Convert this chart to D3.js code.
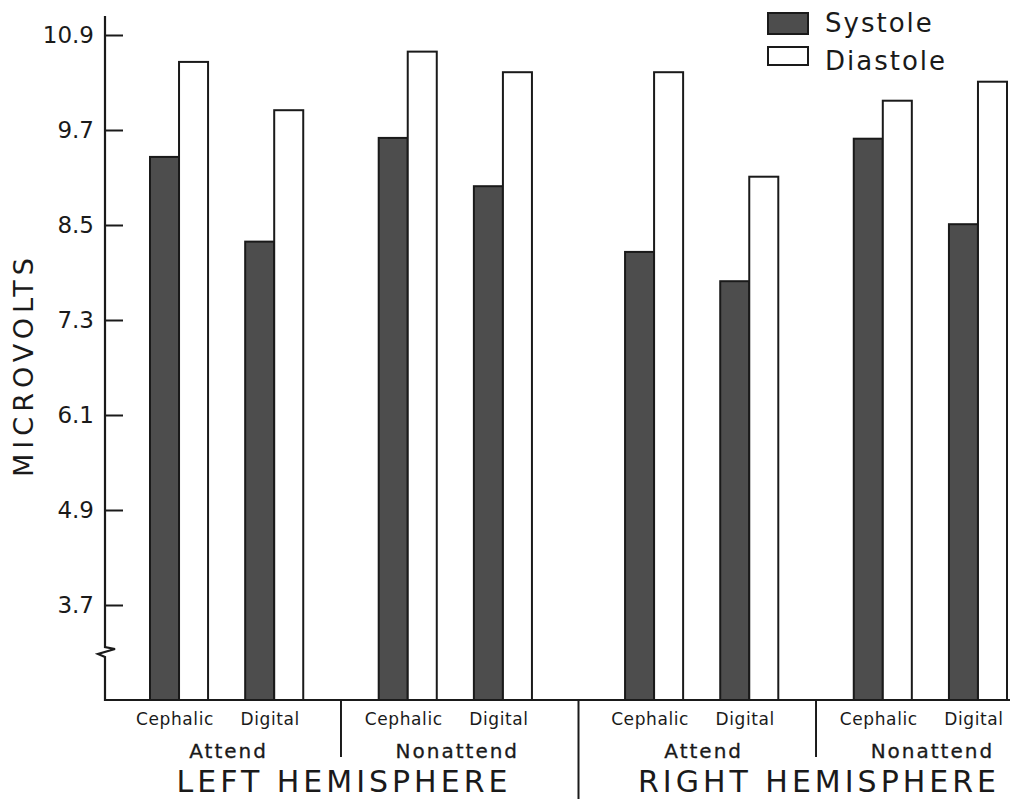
<!DOCTYPE html>
<html>
<head>
<meta charset="utf-8" />
<title>Microvolts by hemisphere</title>
<script src="https://cdn.jsdelivr.net/npm/d3@7/dist/d3.min.js"></script>
<style>
  body { margin: 0; background: #fff; }
  svg text { font-family: "DejaVu Sans", sans-serif; fill: #1a1a1a; }
</style>
</head>
<body>
<div id="chart"></div>
<script>
// data
var hemispheres = ["LEFT HEMISPHERE", "RIGHT HEMISPHERE"];
var conditions = ["Attend", "Nonattend"];
var sites = ["Cephalic", "Digital"];
var seriesNames = ["Systole", "Diastole"];
// order: L-Attend-Ceph, L-Attend-Dig, L-Non-Ceph, L-Non-Dig, R-Attend-Ceph, ...
var systole = [9.36, 8.29, 9.60, 8.99, 8.16, 7.79, 9.59, 8.51];
var diastole = [10.56, 9.95, 10.69, 10.43, 10.43, 9.11, 10.07, 10.31];
var yTicks = [3.7, 4.9, 6.1, 7.3, 8.5, 9.7, 10.9];

var width = 1010, height = 799;
var axisX = 105, baseY = 700;

var svg = d3.select("#chart").append("svg")
  .attr("width", width)
  .attr("height", height);

// y scale, broken axis starts at 2.5
var y = d3.scaleLinear().domain([2.5, 10.9]).range([baseY, 35]);

// nested band scales: hemisphere > condition > site > series
var xHemi = d3.scaleBand().domain(hemispheres).range([150, 1007]).paddingInner(0.196);
var xCond = d3.scaleBand().domain(conditions).range([0, xHemi.bandwidth()]).paddingInner(0.33);
var xSite = d3.scaleBand().domain(sites).range([0, xCond.bandwidth()]).paddingInner(0.39);
var xSer = d3.scaleBand().domain(seriesNames).range([0, xSite.bandwidth()]).padding(0);

var fills = { "Systole": "#4d4d4d", "Diastole": "#ffffff" };

// build bar records
var bars = [];
var i = 0;
hemispheres.forEach(function (h) {
  conditions.forEach(function (c) {
    sites.forEach(function (s) {
      bars.push({ hemi: h, cond: c, site: s, series: "Systole", value: systole[i] });
      bars.push({ hemi: h, cond: c, site: s, series: "Diastole", value: diastole[i] });
      i++;
    });
  });
});

function xPos(d) {
  return xHemi(d.hemi) + xCond(d.cond) + xSite(d.site) + (d.series ? xSer(d.series) : 0);
}

svg.selectAll("rect.bar")
  .data(bars)
  .enter().append("rect")
  .attr("class", "bar")
  .attr("x", xPos)
  .attr("y", function (d) { return y(d.value); })
  .attr("width", xSer.bandwidth())
  .attr("height", function (d) { return baseY - y(d.value); })
  .attr("fill", function (d) { return fills[d.series]; })
  .attr("stroke", "#1a1a1a")
  .attr("stroke-width", 2);

// y axis with break
var yAxis = d3.axisRight(y).tickValues(yTicks).tickSize(18).tickFormat("");
var gy = svg.append("g").attr("transform", "translate(" + axisX + ",0)").call(yAxis);
gy.select(".domain").remove();
gy.selectAll(".tick line").attr("stroke", "#1a1a1a").attr("stroke-width", 2);

svg.selectAll("text.ytick")
  .data(yTicks)
  .enter().append("text")
  .attr("class", "ytick")
  .attr("x", axisX - 11)
  .attr("y", function (d) { return y(d) + 8; })
  .attr("text-anchor", "end")
  .style("font-size", "23px")
  .text(function (d) { return d3.format(".1f")(d); });

svg.append("path")
  .attr("d", "M" + axisX + ",16 L" + axisX + ",647 L115,649 L98,654 L" + axisX + ",657 L" + axisX + "," + baseY + " L" + width + "," + baseY)
  .attr("fill", "none")
  .attr("stroke", "#1a1a1a")
  .attr("stroke-width", 2.2);

// separators below baseline
var sepData = [];
hemispheres.forEach(function (h) {
  var a = xHemi(h) + xCond("Attend") + xCond.bandwidth();
  var b = xHemi(h) + xCond("Nonattend");
  sepData.push({ x: (a + b) / 2, y2: 757 });
});
sepData.push({ x: (xHemi(hemispheres[0]) + xHemi.bandwidth() + xHemi(hemispheres[1])) / 2, y2: 799 });

svg.selectAll("line.sep")
  .data(sepData)
  .enter().append("line")
  .attr("class", "sep")
  .attr("x1", function (d) { return d.x; })
  .attr("x2", function (d) { return d.x; })
  .attr("y1", baseY)
  .attr("y2", function (d) { return d.y2; })
  .attr("stroke", "#1a1a1a")
  .attr("stroke-width", 2);

// site labels
var siteLabels = [];
hemispheres.forEach(function (h) {
  conditions.forEach(function (c) {
    sites.forEach(function (s) {
      siteLabels.push({ hemi: h, cond: c, site: s });
    });
  });
});
svg.selectAll("text.site")
  .data(siteLabels)
  .enter().append("text")
  .attr("class", "site")
  .attr("x", function (d) { return xHemi(d.hemi) + xCond(d.cond) + xSite(d.site) + xSite.bandwidth() / 2 - 4; })
  .attr("y", 725)
  .attr("text-anchor", "middle")
  .style("font-size", "17px")
  .style("letter-spacing", "0.6px")
  .text(function (d) { return d.site; });

// condition labels
var condLabels = [];
hemispheres.forEach(function (h) {
  conditions.forEach(function (c) { condLabels.push({ hemi: h, cond: c }); });
});
svg.selectAll("text.cond")
  .data(condLabels)
  .enter().append("text")
  .attr("class", "cond")
  .attr("x", function (d) { return xHemi(d.hemi) + xCond(d.cond) + xCond.bandwidth() / 2 + 2; })
  .attr("y", 758)
  .attr("text-anchor", "middle")
  .style("font-size", "20px")
  .style("letter-spacing", "2px")
  .style("stroke", "#1a1a1a")
  .style("stroke-width", "0.3px")
  .text(function (d) { return d.cond; });

// hemisphere labels
svg.selectAll("text.hemi")
  .data(hemispheres)
  .enter().append("text")
  .attr("class", "hemi")
  .attr("x", function (d) { return xHemi(d) + xHemi.bandwidth() / 2 + 3; })
  .attr("y", 792)
  .attr("text-anchor", "middle")
  .style("font-size", "30px")
  .style("letter-spacing", "4px")
  .text(function (d) { return d; });

// y label
svg.append("text")
  .attr("transform", "translate(33,365) rotate(-90)")
  .attr("text-anchor", "middle")
  .style("font-size", "27px")
  .style("letter-spacing", "5px")
  .text("MICROVOLTS");

// legend
var legend = svg.selectAll("g.legend")
  .data(seriesNames)
  .enter().append("g")
  .attr("class", "legend")
  .attr("transform", function (d, k) { return "translate(768," + (13 + k * 34) + ")"; });

legend.append("rect")
  .attr("width", 40)
  .attr("height", function (d, k) { return k === 0 ? 21 : 18; })
  .attr("fill", function (d) { return fills[d]; })
  .attr("stroke", "#1a1a1a")
  .attr("stroke-width", 2);

legend.append("text")
  .attr("x", 57)
  .attr("y", function (d, k) { return k === 0 ? 19 : 23; })
  .style("font-size", "26px")
  .style("letter-spacing", "2px")
  .text(function (d) { return d; });
</script>
</body>
</html>
